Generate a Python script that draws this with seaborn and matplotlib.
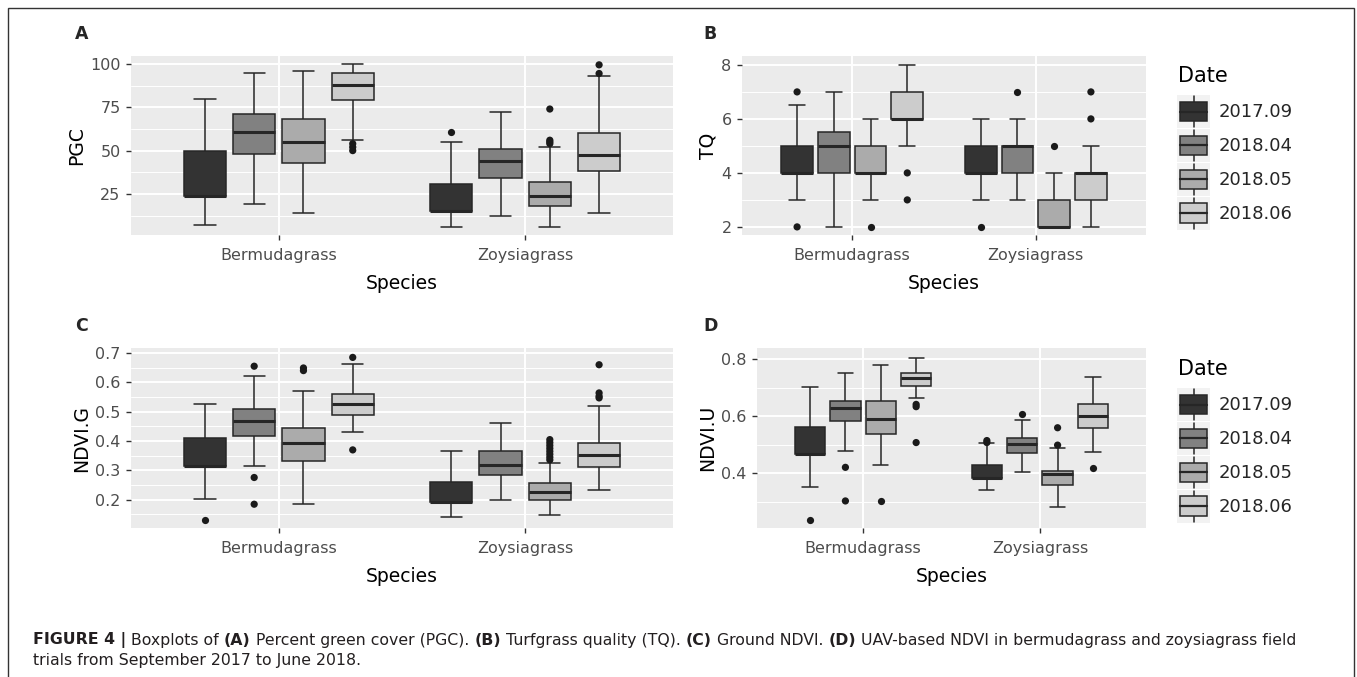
import numpy as np
import pandas as pd
import matplotlib
matplotlib.use("Agg")
import matplotlib.pyplot as plt
import seaborn as sns
from matplotlib.patches import Rectangle
from matplotlib.lines import Line2D
from matplotlib.legend_handler import HandlerBase
from matplotlib.ticker import FixedLocator, MultipleLocator

# ---------------- data ----------------
species = ["Bermudagrass", "Zoysiagrass"]
dates = ["2017.09", "2018.04", "2018.05", "2018.06"]
fills = ["#333333", "#818181", "#ABABAB", "#CCCCCC"]

# five-number summaries per date: [lower whisker, Q1, median, Q3, upper whisker]
pgc_bermuda = [[7, 24, 24, 50, 80], [19, 48, 61, 71, 95], [14, 43, 55, 68, 96], [56, 79, 88, 95, 100]]
pgc_zoysia = [[6, 15, 15, 31, 55], [12, 34, 44, 51, 72], [6, 18, 24, 32, 52], [14, 38, 47.5, 60, 93]]
pgc_out_bermuda = [[], [], [], [54, 52, 50]]
pgc_out_zoysia = [[61], [], [74, 56, 55, 54], [94.5, 99.5]]

tq_bermuda = [[3, 4, 4, 5, 6.5], [2, 4, 5, 5.5, 7], [3, 4, 4, 5, 6], [5, 6, 6, 7, 8]]
tq_zoysia = [[3, 4, 4, 5, 6], [3, 4, 5, 5, 6], [2, 2, 2, 3, 4], [2, 3, 4, 4, 5]]
tq_out_bermuda = [[7, 2], [], [2], [4, 3]]
tq_out_zoysia = [[2], [7], [5], [6, 7]]

ndvig_bermuda = [[0.203, 0.316, 0.316, 0.410, 0.526], [0.314, 0.419, 0.469, 0.509, 0.620],
                 [0.185, 0.331, 0.393, 0.444, 0.572], [0.430, 0.490, 0.527, 0.560, 0.662]]
ndvig_zoysia = [[0.143, 0.191, 0.191, 0.260, 0.367], [0.200, 0.285, 0.319, 0.365, 0.461],
                [0.149, 0.200, 0.228, 0.257, 0.325], [0.234, 0.311, 0.353, 0.395, 0.521]]
ndvig_out_bermuda = [[0.130], [0.655, 0.276, 0.185], [0.649, 0.640], [0.685, 0.370]]
ndvig_out_zoysia = [[], [], [0.336, 0.345, 0.355, 0.365, 0.375, 0.385, 0.395, 0.405],
                    [0.660, 0.564, 0.553, 0.547]]

ndviu_bermuda = [[0.353, 0.467, 0.467, 0.564, 0.704], [0.480, 0.585, 0.630, 0.655, 0.751],
                 [0.429, 0.538, 0.589, 0.654, 0.782], [0.663, 0.708, 0.733, 0.751, 0.806]]
ndviu_zoysia = [[0.342, 0.385, 0.385, 0.429, 0.505], [0.403, 0.473, 0.502, 0.523, 0.587],
                [0.283, 0.359, 0.396, 0.409, 0.488], [0.476, 0.560, 0.602, 0.642, 0.739]]
ndviu_out_bermuda = [[0.236], [0.421, 0.303], [0.303], [0.642, 0.634, 0.508]]
ndviu_out_zoysia = [[0.515, 0.508], [0.607], [0.560, 0.499], [0.420]]

# ---------------- style ----------------
sns.set_theme(style="darkgrid", rc={
    "axes.facecolor": "#EBEBEB",
    "grid.color": "white",
    "axes.axisbelow": True,
})
plt.rcParams["font.family"] = ["DejaVu Sans"]

LINE = "#262626"
W, H = 1357, 677
fig = plt.figure(figsize=(W / 100, H / 100), dpi=100)
fig.patch.set_facecolor("white")


def frac(left, top, right, bottom):
    return [left / W, 1 - bottom / H, (right - left) / W, (bottom - top) / H]


def long_frame(bermuda, zoysia):
    rows = []
    for sp, summ in zip(species, [bermuda, zoysia]):
        for d, vals in zip(dates, summ):
            for v in vals:
                rows.append((sp, d, v))
    return pd.DataFrame(rows, columns=["Species", "Date", "value"])


def panel(rect, bermuda, zoysia, out_b, out_z, ylabel, ylim, majors, minor_step):
    ax = fig.add_axes(frac(*rect))
    box_df = long_frame(bermuda, zoysia)
    out_df = long_frame(out_b, out_z)
    sns.boxplot(data=box_df, x="Species", y="value", hue="Date", order=species,
                hue_order=dates, palette=dict(zip(dates, fills)), whis=np.inf,
                width=0.8, gap=0.14, linecolor=LINE, linewidth=1.1, saturation=1,
                legend=False, ax=ax, medianprops={"linewidth": 2.2})
    sns.stripplot(data=out_df, x="Species", y="value", hue="Date", order=species,
                  hue_order=dates, palette=dict(zip(dates, ["#1a1a1a"] * 4)),
                  dodge=True, jitter=False, size=5.2, linewidth=0, legend=False, ax=ax)
    ax.set_xlim(-0.6, 1.6)
    ax.set_ylim(*ylim)
    ax.yaxis.set_major_locator(FixedLocator(majors))
    ax.yaxis.set_minor_locator(MultipleLocator(minor_step))
    ax.grid(which="major", color="white", linewidth=1.4)
    ax.grid(which="minor", axis="y", color="white", linewidth=0.7)
    ax.xaxis.grid(True, which="major", color="white", linewidth=1.4)
    for s in ax.spines.values():
        s.set_visible(False)
    ax.tick_params(axis="both", which="major", length=3.5, width=1, color="#333333",
                   labelcolor="#4D4D4D", labelsize=11.5, bottom=True, left=True)
    ax.tick_params(axis="x", which="major", pad=6)
    ax.tick_params(axis="y", which="major", pad=4)
    ax.tick_params(axis="both", which="minor", length=0)
    ax.set_xlabel("Species", fontsize=13.5, color="black", labelpad=8)
    ax.set_ylabel(ylabel, fontsize=13.5, color="black", labelpad=3)
    return ax


panel((131, 56, 673, 235), pgc_bermuda, pgc_zoysia, pgc_out_bermuda, pgc_out_zoysia,
      "PGC", (1.3, 104.6), [25, 50, 75, 100], 12.5)
panel((742, 56, 1146, 235), tq_bermuda, tq_zoysia, tq_out_bermuda, tq_out_zoysia,
      "TQ", (1.7, 8.33), [2, 4, 6, 8], 1)
panel((131, 348, 673, 528), ndvig_bermuda, ndvig_zoysia, ndvig_out_bermuda, ndvig_out_zoysia,
      "NDVI.G", (0.104, 0.717), [0.2, 0.3, 0.4, 0.5, 0.6, 0.7], 0.05)
panel((757, 348, 1146, 528), ndviu_bermuda, ndviu_zoysia, ndviu_out_bermuda, ndviu_out_zoysia,
      "NDVI.U", (0.208, 0.84), [0.4, 0.6, 0.8], 0.1)

# panel letters
for letter, (x, y) in zip("ABCD", [(75, 34), (703, 34), (75, 326), (703, 326)]):
    fig.text(x / W, 1 - y / H, letter, fontsize=12.5, fontweight="bold", va="center", ha="left")


# legends with boxplot-style keys
class BoxKey(HandlerBase):
    def create_artists(self, legend, orig, xd, yd, w, h, fs, trans):
        x0, y0 = -xd, -yd
        bg = Rectangle((x0, y0), w, h, facecolor="#F2F2F2", edgecolor="none", transform=trans)
        cx = x0 + w / 2
        wl = Line2D([cx, cx], [y0 + 0.04 * h, y0 + 0.96 * h], color=LINE, lw=1.1, transform=trans)
        bx = Rectangle((x0 + 0.08 * w, y0 + 0.2 * h), 0.84 * w, 0.6 * h, facecolor=orig.get_facecolor(),
                       edgecolor=LINE, lw=1.1, transform=trans)
        md = Line2D([x0 + 0.08 * w, x0 + 0.92 * w], [y0 + h / 2] * 2, color=LINE, lw=1.6, transform=trans)
        return [bg, wl, bx, md]


handles = [Rectangle((0, 0), 1, 1, facecolor=c) for c in fills]
for title_y, keys_top in ((76, 95), (369, 388)):
    fig.text(1178 / W, 1 - title_y / H, "Date", fontsize=15, color="black", va="center", ha="left")
    fig.legend(handles, dates, handler_map={Rectangle: BoxKey()},
               loc="upper left", bbox_to_anchor=(1177 / W, 1 - keys_top / H),
               frameon=False, fontsize=13, handlelength=1.83,
               handleheight=2.44, handletextpad=0.5, labelspacing=0.05,
               borderpad=0, borderaxespad=0)

# caption
cap = fig.add_axes([0, 0, 1, 1], facecolor="none")
cap.axis("off")
cap.set_xlim(0, 1)
cap.set_ylim(0, 1)
pieces = [("FIGURE 4 |", "bold"), (" Boxplots of ", "normal"), ("(A)", "bold"),
          (" Percent green cover (PGC). ", "normal"), ("(B)", "bold"),
          (" Turfgrass quality (TQ). ", "normal"), ("(C)", "bold"), (" Ground NDVI. ", "normal"),
          ("(D)", "bold"), (" UAV-based NDVI in bermudagrass and zoysiagrass field", "normal")]
cfs = 11.3
prev = cap.text(33 / W, 1 - 644 / H, pieces[0][0], fontsize=cfs, fontweight=pieces[0][1],
                color="#231F20", va="baseline", ha="left")
for txt, wt in pieces[1:]:
    prev = cap.annotate(txt, xy=(1, 0), xycoords=prev, xytext=(0, 0), textcoords="offset points",
                        fontsize=cfs, fontweight=wt, color="#231F20", va="bottom", ha="left")
cap.text(33 / W, 1 - 665 / H, "trials from September 2017 to June 2018.", fontsize=cfs,
         color="#231F20", va="baseline", ha="left")

# outer border
fig.add_artist(Rectangle((8 / W, -0.01), (1354 - 8) / W, 1 - 8 / H + 0.01,
                         transform=fig.transFigure, fill=False, edgecolor="#333333", linewidth=1))

fig.savefig("out.png", dpi=100)
